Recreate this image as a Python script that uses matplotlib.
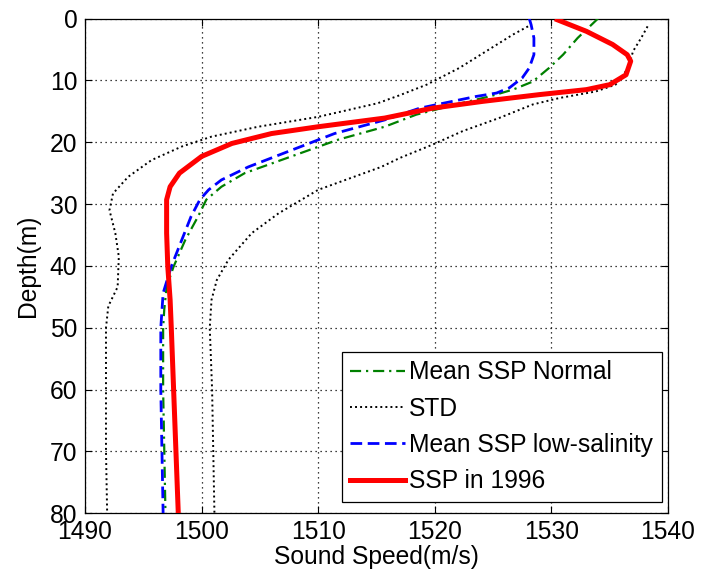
import matplotlib
matplotlib.use("Agg")
import matplotlib.pyplot as plt

plt.rcParams['font.family'] = ['Liberation Sans', 'DejaVu Sans']

# ---- data (depth in m, sound speed in m/s) ----
normal_depth = [0, 3.15, 5.85, 8.0, 10.2, 11.5, 12.6, 13.9, 15.55, 17.5, 19.6, 22.3, 25.0, 27.2, 29.3, 32.0, 35.8, 40.1, 43.4, 47, 50, 60, 70, 80]
normal_speed = [1534.0, 1532.25, 1531.0, 1529.8, 1528.4, 1526.7, 1524.7, 1521.8, 1518.4, 1515.7, 1511.7, 1507.7, 1503.7, 1501.7, 1500.4, 1499.7, 1498.6, 1497.6, 1497.0, 1496.8, 1496.7, 1496.7, 1496.8, 1496.9]

std_left_depth = [1.27, 2.6, 5.3, 8.0, 10.7, 12.4, 13.7, 15.9, 17.5, 19.1, 20.7, 22.9, 25.6, 28.3, 31.0, 34.7, 38.5, 43.4, 46.5, 50, 60, 70, 80]
std_left_speed = [1528.0, 1526.7, 1524.4, 1522.1, 1519.3, 1517.0, 1515.1, 1510.0, 1504.85, 1500.85, 1498.3, 1495.7, 1493.7, 1492.4, 1492.1, 1492.6, 1492.9, 1492.8, 1492.0, 1491.8, 1491.8, 1491.8, 1491.9]

std_right_depth = [1.27, 3.15, 5.3, 8.0, 10.7, 11.8, 12.85, 13.9, 16.1, 18.2, 20.4, 22.55, 24.0, 27.7, 31.5, 34.7, 39.0, 42.3, 45.5, 50, 60, 70, 80]
std_right_speed = [1538.25, 1537.7, 1537.0, 1536.6, 1535.5, 1533.8, 1530.7, 1528.4, 1525.5, 1522.4, 1519.8, 1517.0, 1515.4, 1510.0, 1506.6, 1504.3, 1502.3, 1501.3, 1500.85, 1500.7, 1500.9, 1501.0, 1501.1]

lowsal_depth = [0, 1.0, 3.15, 5.85, 8.0, 9.6, 11.2, 12.05, 12.6, 13.4, 14.5, 16.4, 18.6, 21.3, 24.0, 26.1, 27.7, 29.3, 32.0, 35.8, 40.1, 44.4, 50, 60, 70, 80]
lowsal_speed = [1528.1, 1528.26, 1528.5, 1528.5, 1528.1, 1527.5, 1526.4, 1525.3, 1523.55, 1521.5, 1518.7, 1515.7, 1511.4, 1507.7, 1504.0, 1501.7, 1500.6, 1499.85, 1499.1, 1498.3, 1497.4, 1496.7, 1496.5, 1496.5, 1496.6, 1496.7]

ssp1996_depth = [0.2, 2.07, 4.2, 5.85, 6.9, 9.1, 10.7, 11.5, 12.3, 13.4, 14.5, 16.1, 17.5, 18.6, 20.2, 22.3, 25.0, 27.2, 29.3, 34.7, 40.1, 45.5, 50, 60, 70, 80]
ssp1996_speed = [1530.5, 1533.0, 1535.25, 1536.5, 1536.8, 1536.4, 1535.0, 1533.0, 1529.0, 1524.1, 1519.8, 1515.7, 1510.0, 1506.0, 1502.6, 1500.0, 1498.1, 1497.3, 1497.0, 1497.0, 1497.1, 1497.3, 1497.4, 1497.6, 1497.8, 1498.0]

x_ticks = [1490, 1500, 1510, 1520, 1530, 1540]
y_ticks = [0, 10, 20, 30, 40, 50, 60, 70, 80]

FS = 17.7

fig = plt.figure(figsize=(7.01, 5.83), dpi=100)
ax = fig.add_axes([85/701, 1 - 513.3/583, (668-85)/701, (513.3-18.5)/583])

ax.plot(normal_speed, normal_depth, color='#008000', lw=1.6,
        dashes=(5, 2.2, 1, 2.2), label='Mean SSP Normal', zorder=3)
ax.plot(std_left_speed, std_left_depth, color='black', lw=1.4,
        linestyle=(0, (1, 1.6)), label='STD', zorder=3)
ax.plot(std_right_speed, std_right_depth, color='black', lw=1.4,
        linestyle=(0, (1, 1.6)), zorder=3)
ax.plot(lowsal_speed, lowsal_depth, color='#0000ff', lw=2.0,
        dashes=(4.2, 2.0), label='Mean SSP low-salinity', zorder=4)
ax.plot(ssp1996_speed, ssp1996_depth, color='#ff0000', lw=3.6,
        label='SSP in 1996', zorder=5)

ax.set_xlim(1490, 1540)
ax.set_ylim(80, 0)
ax.set_xticks(x_ticks)
ax.set_yticks(y_ticks)
ax.grid(True, color='black', linestyle=(0, (1, 3)), linewidth=0.9)
ax.tick_params(direction='in', top=True, right=True, length=5, width=0.8,
               labelsize=FS)
ax.tick_params(axis='x', pad=4.5)
ax.tick_params(axis='y', pad=5.5)
for s in ax.spines.values():
    s.set_linewidth(0.9)

ax.set_xlabel('Sound Speed(m/s)', fontsize=FS, labelpad=1)
ax.set_ylabel('Depth(m)', fontsize=FS, labelpad=7)

leg = ax.legend(loc='lower right', bbox_to_anchor=(0.989, 0.023),
                borderaxespad=0, fontsize=FS, frameon=True, fancybox=False,
                edgecolor='black', framealpha=1, handlelength=2.24,
                handletextpad=0.15, labelspacing=0.5, borderpad=0.35)
leg.get_frame().set_linewidth(0.9)

fig.savefig('out.png', dpi=100)
